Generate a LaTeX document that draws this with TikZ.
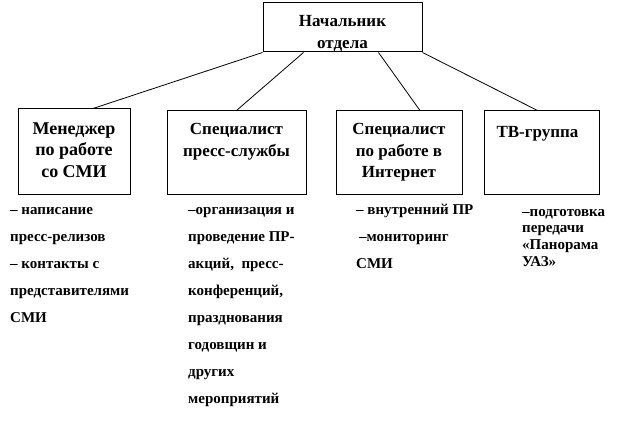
\documentclass[tikz,border=0pt]{standalone}
\usepackage{fontspec}
\setmainfont{Liberation Serif}
\usetikzlibrary{positioning}

\tikzset{
  unit/.style={draw, line width=1pt, inner sep=0pt},
  unittext/.style={anchor=north, align=center, inner sep=0pt,
    font=\bfseries\fontsize{17}{21.5}\selectfont},
  duty/.style={anchor=north west, align=left, inner sep=0pt,
    font=\bfseries\fontsize{15}{27}\selectfont},
  link/.style={line width=0.8pt}
}

\begin{document}
\begin{tikzpicture}[x=1pt,y=-1pt]
  \useasboundingbox (0,0) rectangle (619,422);

  % Начальник
  \node[unit, minimum width=159pt, minimum height=49pt] (head) at (342.5,27.5) {};
  \node[unittext, below=13pt of head.north] (headtext) {Начальник\\отдела};

  % Подразделения
  \node[unit, minimum width=112pt, minimum height=86pt] (manager) at (74,152) {};
  \node[unit, minimum width=139pt, minimum height=84pt] (press) at (236.5,153) {};
  \node[unit, minimum width=126pt, minimum height=84pt] (web) at (399,153) {};
  \node[unit, minimum width=115pt, minimum height=84pt] (tv) at (541.5,153) {};

  \node[unittext, below=14pt of manager.north,
        font=\bfseries\fontsize{18}{21.5}\selectfont] (managertext) {Менеджер\\по работе\\со СМИ};
  \node[unittext, below=13pt of press.north] (presstext) {Специалист\\пресс-службы};
  \node[unittext, below=13pt of web.north] (webtext) {Специалист\\по работе в\\Интернет};
  \node[unittext, below=16pt of tv.north, xshift=-4pt] (tvtext) {ТВ-группа};

  % Связи
  \draw[link] (head.south west) -- ([xshift=19pt]manager.north);
  \draw[link] ([xshift=41pt]head.south west) -- (press.north);
  \draw[link] ([xshift=-44pt]head.south east) -- ([xshift=21pt]web.north);
  \draw[link] (head.south east) -- ([xshift=-4pt]tv.north);

  % Функции
  \node[duty] (managerduty) at (10,207)
    {– написание\\пресс-релизов\\– контакты с\\представителями\\СМИ};
  \node[duty] (pressduty) at (188,207)
    {–организация и\\проведение ПР-\\акций,\ \ пресс-\\конференций,\\празднования\\годовщин и\\других\\мероприятий};
  \node[duty] (webduty) at (356,204)
    {– внутренний ПР\\\hspace{3pt}–мониторинг\\СМИ};
  \node[duty, font=\bfseries\fontsize{15}{16.7}\selectfont] (tvduty) at (522,209)
    {–подготовка\\передачи\\«Панорама\\УАЗ»};
\end{tikzpicture}
\end{document}
